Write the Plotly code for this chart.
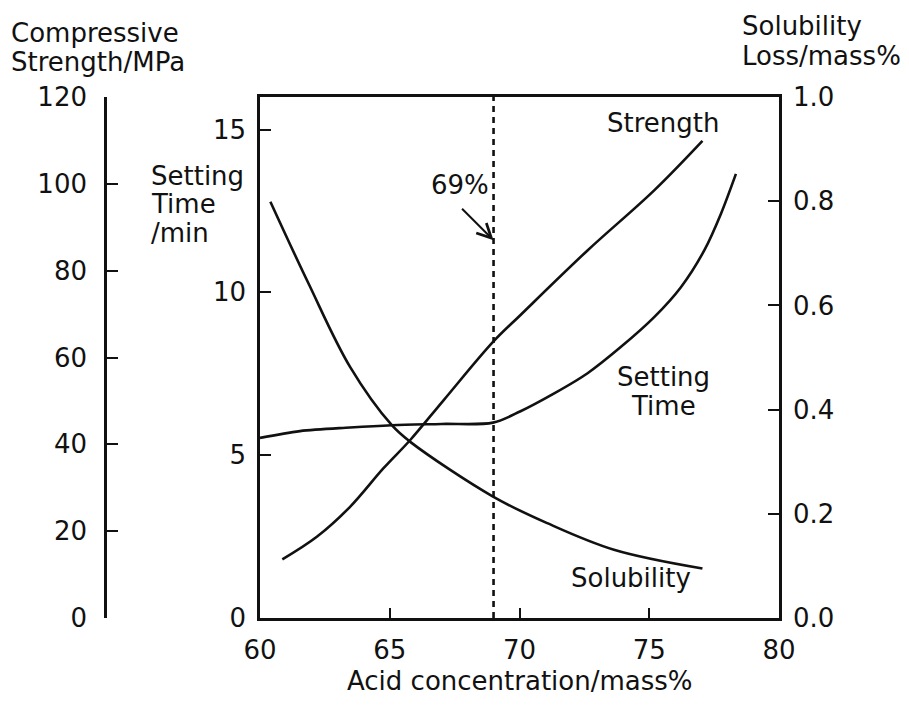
import plotly.graph_objects as go

# ---- data ----
strength_x = [60.86, 62.19, 63.47, 64.76, 65.79, 67.08, 68.98, 70.04, 72.61, 75.19, 77.05]
strength_y = [13.5, 18.7, 25.6, 34.5, 41.0, 50.2, 63.6, 69.8, 84.6, 98.5, 109.9]

setting_x = [60.0, 61.54, 63.47, 65.08, 67.0, 68.98, 70.04, 71.32, 72.61, 73.90, 75.19, 76.22, 77.12, 77.76, 78.34]
setting_y = [5.53, 5.74, 5.85, 5.92, 5.96, 6.0, 6.35, 6.89, 7.51, 8.32, 9.24, 10.16, 11.29, 12.41, 13.64]

solub_x = [60.4, 61.87, 63.47, 65.08, 65.79, 68.98, 71.07, 73.64, 77.05]
solub_y = [0.799, 0.642, 0.482, 0.370, 0.338, 0.233, 0.182, 0.131, 0.095]

threshold = 69
x_ticks = [60, 65, 70, 75, 80]
setting_ticks = [0, 5, 10, 15]
strength_ticks = [0, 20, 40, 60, 80, 100, 120]
solub_ticks = [0.0, 0.2, 0.4, 0.6, 0.8, 1.0]

W, H = 909, 715
FONT = "DejaVu Sans"
FS = 26
INK = "#111111"

def px(x):
    return x / W

def py(y):
    return 1 - y / H

fig = go.Figure()
line = dict(color=INK, width=2.6)
fig.add_trace(go.Scatter(x=strength_x, y=strength_y, yaxis="y2", mode="lines",
                         line=dict(line, shape="spline", smoothing=1.0)))
fig.add_trace(go.Scatter(x=setting_x, y=setting_y, yaxis="y", mode="lines",
                         line=dict(line, shape="spline", smoothing=0.9)))
fig.add_trace(go.Scatter(x=solub_x, y=solub_y, yaxis="y3", mode="lines",
                         line=dict(line, shape="spline", smoothing=1.0)))
fig.add_trace(go.Scatter(x=[threshold, threshold], y=[0, 16], yaxis="y", mode="lines",
                         line=dict(color=INK, width=2.6, dash="6px,5px")))

xd = [px(260), px(779)]
yd = [py(618), py(97)]
tickfont = dict(family=FONT, size=FS, color=INK)

fig.update_layout(
    width=W, height=H,
    margin=dict(l=0, r=0, t=0, b=0),
    paper_bgcolor="white", plot_bgcolor="white",
    showlegend=False,
    font=dict(family=FONT, size=FS, color=INK),
    xaxis=dict(domain=xd, range=[60, 80], tickvals=x_ticks, ticks="inside", ticklen=10,
               tickwidth=1.5, tickcolor=INK, showline=True, linecolor=INK, linewidth=2.6,
               mirror=True, showgrid=False, zeroline=False, tickfont=tickfont,
               automargin=False, ticklabelstandoff=7),
    yaxis=dict(domain=yd, range=[0, 16], tickvals=setting_ticks, ticks="inside", ticklen=11,
               tickwidth=1.5, tickcolor=INK, showline=True, linecolor=INK, linewidth=2.6,
               showgrid=False, zeroline=False, tickfont=tickfont, automargin=False,
               ticklabelstandoff=6),
    yaxis2=dict(overlaying="y", anchor="free", position=px(105), side="left",
                range=[0, 120], tickvals=strength_ticks, ticks="inside", ticklen=11,
                tickwidth=1.5, tickcolor=INK, showline=True, linecolor=INK, linewidth=2.6,
                showgrid=False, zeroline=False, tickfont=tickfont, automargin=False,
                ticklabelstandoff=12),
    yaxis3=dict(overlaying="y", anchor="x", side="right", range=[0, 1],
                tickvals=solub_ticks, tickformat=".1f", ticks="inside", ticklen=11,
                tickwidth=1.5, tickcolor=INK, showline=True, linecolor=INK, linewidth=2.6,
                showgrid=False, zeroline=False, tickfont=tickfont, automargin=False,
                ticklabelstandoff=6),
)

def ptext(text, x, y, xanchor="left"):
    fig.add_annotation(text=text, x=px(x), y=py(y), xref="paper", yref="paper",
                       xanchor=xanchor, yanchor="middle", showarrow=False,
                       font=dict(family=FONT, size=FS, color=INK))

ptext("Compressive", 9, 33)
ptext("Strength/MPa", 9, 62)
ptext("Solubility", 740, 26)
ptext("Loss/mass%", 740, 56)
ptext("Setting", 149, 176)
ptext("Time", 149, 204)
ptext("/min", 149, 233)
ptext("Acid concentration/mass%", 520, 681, xanchor="center")

def dtext(text, x, y):
    fig.add_annotation(text=text, x=x, y=y, xref="x", yref="y", showarrow=False,
                       xanchor="center", yanchor="middle",
                       font=dict(family=FONT, size=FS, color=INK))

dtext("Strength", 75.52, 15.2)
dtext("Setting", 75.56, 7.4)
dtext("Time", 75.56, 6.5)
dtext("Solubility", 74.29, 1.23)
dtext("69%", 67.72, 13.3)

fig.add_annotation(x=threshold, y=11.6, xref="x", yref="y", ax=-33, ay=-33,
                   showarrow=True, arrowhead=5, arrowsize=1.4, arrowwidth=2,
                   arrowcolor=INK, text="")

fig.write_html("out.html")
